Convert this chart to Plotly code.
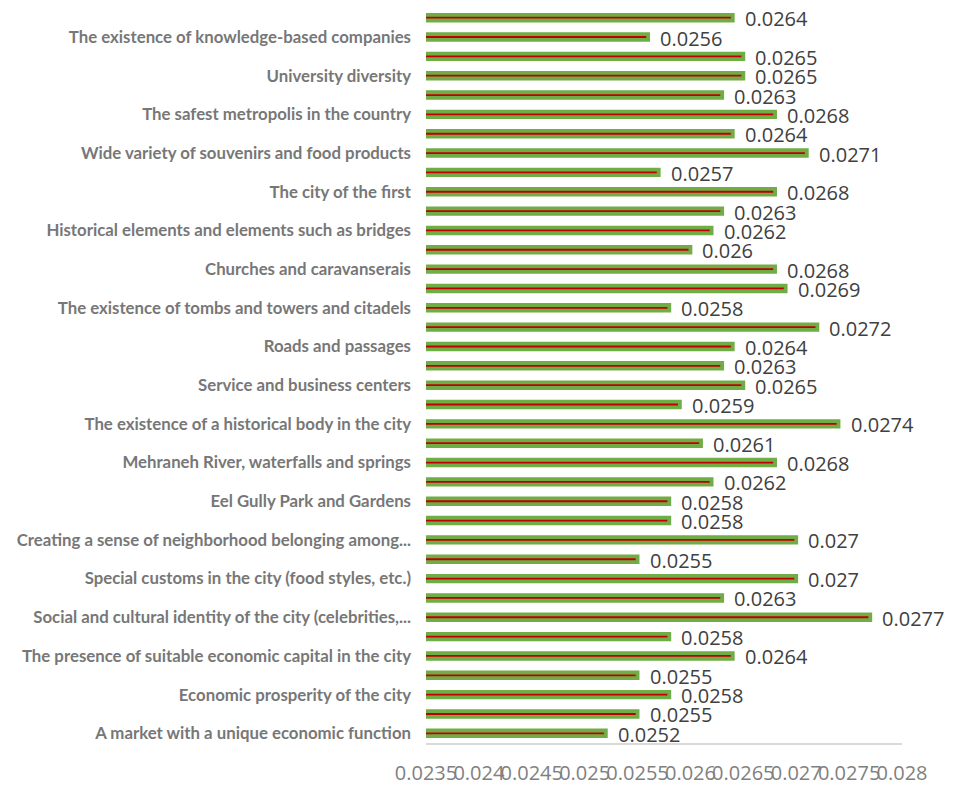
import plotly.graph_objects as go

# Values listed top to bottom as they appear in the chart
values = [0.0264, 0.0256, 0.0265, 0.0265, 0.0263, 0.0268, 0.0264, 0.0271, 0.0257, 0.0268,
          0.0263, 0.0262, 0.026, 0.0268, 0.0269, 0.0258, 0.0272, 0.0264, 0.0263, 0.0265,
          0.0259, 0.0274, 0.0261, 0.0268, 0.0262, 0.0258, 0.0258, 0.027, 0.0255, 0.027,
          0.0263, 0.0277, 0.0258, 0.0264, 0.0255, 0.0258, 0.0255, 0.0252]

# Category labels shown (every other bar, top to bottom, on the 2nd, 4th, ... bar)
labels = [
    "The existence of knowledge-based companies",
    "University diversity",
    "The safest metropolis in the country",
    "Wide variety of souvenirs and food products",
    "The city of the first",
    "Historical elements and elements such as bridges",
    "Churches and caravanserais",
    "The existence of tombs and towers and citadels",
    "Roads and passages",
    "Service and business centers",
    "The existence of a historical body in the city",
    "Mehraneh River, waterfalls and springs",
    "Eel Gully Park and Gardens",
    "Creating a sense of neighborhood belonging among...",
    "Special customs in the city (food styles, etc.)",
    "Social and cultural identity of the city (celebrities,...",
    "The presence of suitable economic capital in the city",
    "Economic prosperity of the city",
    "A market with a unique economic function",
]

x_ticks = [0.0235, 0.024, 0.0245, 0.025, 0.0255, 0.026, 0.0265, 0.027, 0.0275, 0.028]
x_tick_text = ["0.0235", "0.024", "0.0245", "0.025", "0.0255", "0.026", "0.0265", "0.027", "0.0275", "0.028"]

positions = list(range(len(values)))
label_positions = [2 * i + 1 for i in range(len(labels))]

fig = go.Figure()
fig.add_trace(go.Bar(
    x=values, y=positions, orientation="h",
    width=0.29,
    marker=dict(color="#C00000", line=dict(color="#70AD47", width=3.8)),
    hoverinfo="x",
))

for v, p in zip(values, positions):
    fig.add_annotation(x=v, y=p, text=str(v), showarrow=False, xanchor="left",
                       yanchor="middle", xshift=10, yshift=-1,
                       font=dict(family="Open Sans", size=20, color="#404040"))

fig.update_layout(
    width=960, height=787,
    margin=dict(l=418, r=66, t=0, b=52, autoexpand=False),
    paper_bgcolor="white", plot_bgcolor="white",
    showlegend=False,
)
fig.update_xaxes(
    range=[0.0235, 0.028], tickvals=x_ticks, ticktext=x_tick_text,
    showgrid=False, zeroline=False, showline=True, linecolor="#D9D9D9", linewidth=1.5,
    ticks="", tickangle=0, automargin=False,
    tickfont=dict(family="Open Sans", size=20, color="#808080"),
    ticklabelstandoff=11,
)
fig.update_yaxes(
    range=[len(values) - 0.5, -0.5], tickvals=label_positions, ticktext=labels,
    showgrid=False, zeroline=False, showline=False, ticks="", automargin=False,
    tickfont=dict(family="Lato", size=16.8, color="#777777", weight="bold"),
    ticklabelstandoff=14,
)

fig.write_html("out.html")
